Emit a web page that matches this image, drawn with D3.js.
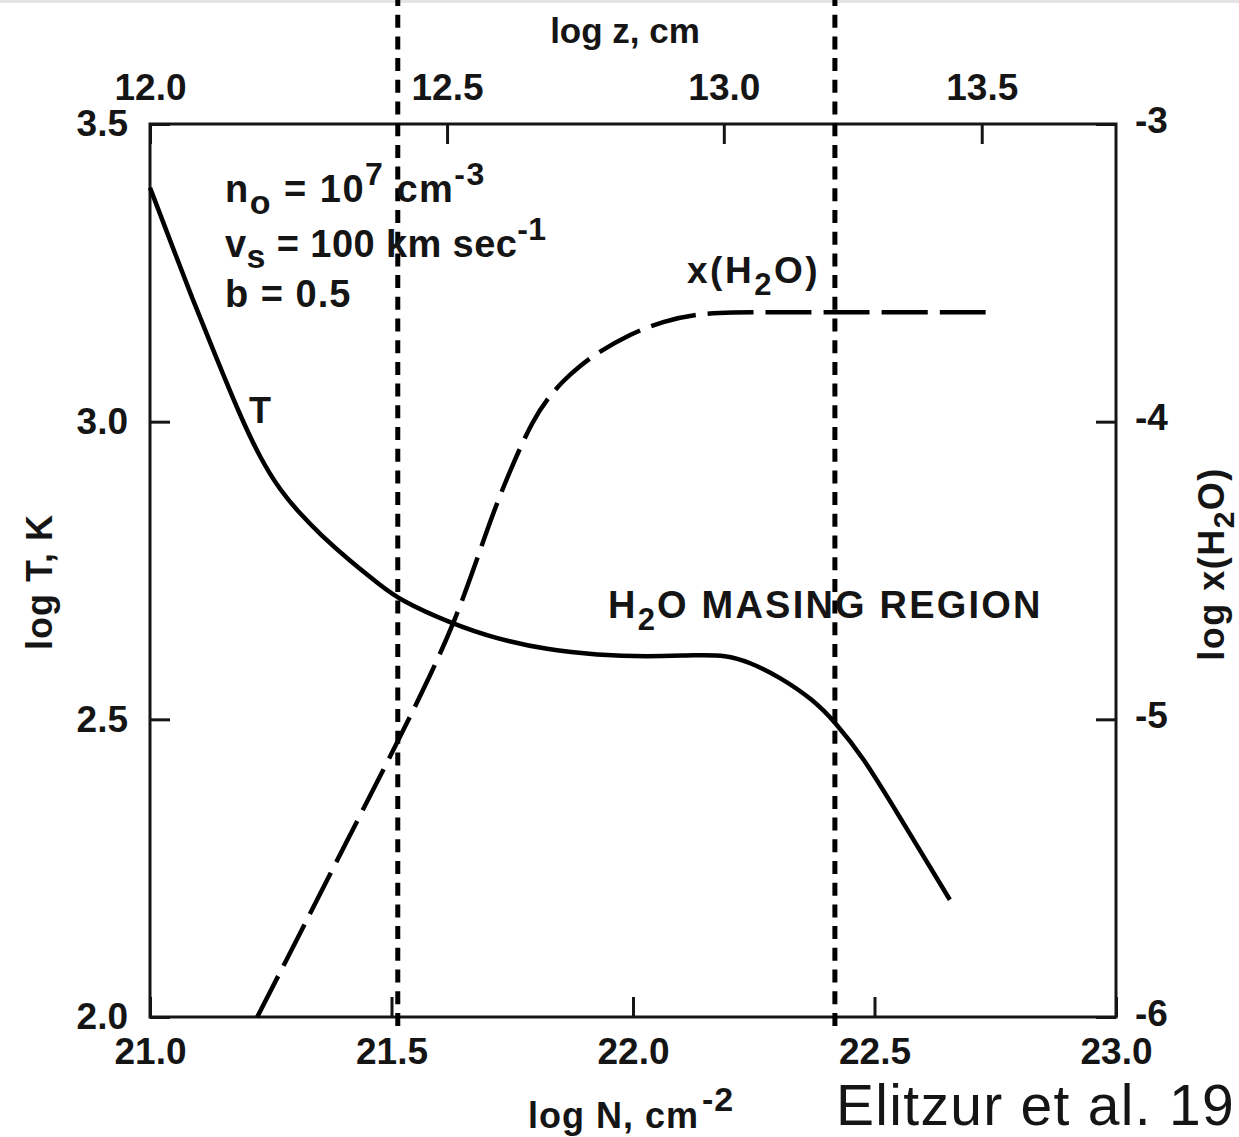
<!DOCTYPE html>
<html>
<head>
<meta charset="utf-8">
<script src="https://cdn.jsdelivr.net/npm/d3@7"></script>
<style>
  html, body { margin: 0; padding: 0; background: #fff; }
  svg { display: block; }
  text { font-family: "Liberation Sans", Arial, Helvetica, sans-serif; fill: #151515; white-space: pre; }
</style>
</head>
<body>
<svg id="chart" width="1239" height="1137"></svg>
<script>
// Column density axis (bottom), log N in cm^-2
const nTicks = [21.0, 21.5, 22.0, 22.5, 23.0];
// Temperature axis (left), log T in K
const tTicks = [2.0, 2.5, 3.0, 3.5];
// Water abundance axis (right), log x(H2O)
const xTicks = [-6, -5, -4, -3];
// Depth axis (top): log z values and the log N each one corresponds to
const zTicks = [12.0, 12.5, 13.0, 13.5];
const zAtN = [21.0, 21.615, 22.188, 22.722];

// Temperature profile behind the shock
const tempN    = [21.000, 21.046, 21.089, 21.135, 21.186, 21.228, 21.269, 21.311, 21.352, 21.414, 21.476, 21.518, 21.621, 21.718, 21.822, 21.926, 22.029, 22.133, 22.191, 22.242, 22.304, 22.373, 22.418, 22.476, 22.547, 22.656];
const tempLogT = [3.393, 3.295, 3.204, 3.112, 3.011, 2.939, 2.885, 2.845, 2.811, 2.766, 2.726, 2.700, 2.662, 2.635, 2.617, 2.608, 2.605, 2.608, 2.608, 2.596, 2.571, 2.533, 2.496, 2.437, 2.343, 2.197];

// Water abundance profile
const waterN    = [21.222, 21.311, 21.414, 21.518, 21.580, 21.632, 21.673, 21.710, 21.750, 21.793, 21.824, 21.855, 21.890, 21.926, 21.994, 22.062, 22.133, 22.201, 22.304, 22.747];
const waterLogX = [-6.000, -5.718, -5.389, -5.059, -4.854, -4.666, -4.482, -4.307, -4.146, -3.994, -3.921, -3.863, -3.813, -3.769, -3.706, -3.662, -3.638, -3.632, -3.632, -3.632];

// Edges of the H2O masing region (log N)
const regionN = [21.513, 22.418];

const svg = d3.select("#chart");
const W = 1239, H = 1137;
const plotL = 150, plotR = 1116, plotT = 124, plotB = 1017;

svg.append("rect").attr("width", W).attr("height", H).attr("fill", "#fff");
svg.append("rect").attr("x", 0).attr("y", 0).attr("width", W).attr("height", 3).attr("fill", "#e4e4e4");

const x = d3.scaleLinear().domain([21, 23]).range([plotL, plotR]);
const yT = d3.scaleLinear().domain([2, 3.5]).range([plotB, plotT]);
const yX = d3.scaleLinear().domain([-6, -3]).range([plotB, plotT]);
const z = d3.scaleLinear().domain(zTicks).range(zAtN.map(x));

const tickFont = 37;
function styleAxis(g) {
  g.attr("font-family", null).attr("font-size", null);
  g.select(".domain").remove();
  g.selectAll(".tick line").attr("stroke", "#151515").attr("stroke-width", 3);
  g.selectAll(".tick text")
    .attr("font-size", tickFont)
    .attr("font-weight", "bold")
    .attr("fill", "#151515");
}

const f1 = d3.format(".1f");

svg.append("g").attr("transform", `translate(0,${plotB})`)
  .call(d3.axisBottom(x).tickValues(nTicks).tickFormat(f1).tickSizeInner(-20).tickSizeOuter(0).tickPadding(21))
  .call(styleAxis);

svg.append("g").attr("transform", `translate(0,${plotT})`)
  .call(d3.axisTop(z).tickValues(zTicks).tickFormat(f1).tickSizeInner(-20).tickSizeOuter(0).tickPadding(24))
  .call(styleAxis);

svg.append("g").attr("transform", `translate(${plotL},0)`)
  .call(d3.axisLeft(yT).tickValues(tTicks).tickFormat(f1).tickSizeInner(-20).tickSizeOuter(0).tickPadding(22))
  .call(styleAxis);

svg.append("g").attr("transform", `translate(${plotR},0)`)
  .call(d3.axisRight(yX).tickValues(xTicks).tickFormat(d => String(d)).tickSizeInner(-20).tickSizeOuter(0).tickPadding(19))
  .call(styleAxis)
  .selectAll(".tick text").attr("dy", "0.22em");

// plot frame
svg.append("rect")
  .attr("x", plotL).attr("y", plotT)
  .attr("width", plotR - plotL).attr("height", plotB - plotT)
  .attr("fill", "none").attr("stroke", "#151515").attr("stroke-width", 3);

// temperature curve
const tempLine = d3.line().x(d => x(d[0])).y(d => yT(d[1])).curve(d3.curveBasis);
svg.append("path")
  .datum(d3.zip(tempN, tempLogT))
  .attr("d", tempLine)
  .attr("fill", "none").attr("stroke", "#000").attr("stroke-width", 4.5);

// water abundance curve
const waterLine = d3.line().x(d => x(d[0])).y(d => yX(d[1])).curve(d3.curveBasis);
svg.append("path")
  .datum(d3.zip(waterN, waterLogX))
  .attr("d", waterLine)
  .attr("fill", "none").attr("stroke", "#000").attr("stroke-width", 4.5)
  .attr("stroke-dasharray", "46,12");

// masing region boundaries
svg.selectAll(".region")
  .data(regionN)
  .join("line")
  .attr("class", "region")
  .attr("x1", d => x(d)).attr("x2", d => x(d))
  .attr("y1", 0).attr("y2", 1027)
  .attr("stroke", "#000").attr("stroke-width", 5)
  .attr("stroke-dasharray", "13,8.7").attr("stroke-dashoffset", 7);

// helper for text with sub/superscripts: parts = [[string, dy, size, dx]]
function richText(xp, yp, parts, opts = {}) {
  const t = svg.append("text")
    .attr("x", xp).attr("y", yp)
    .attr("font-size", opts.size || 37)
    .attr("font-weight", opts.weight || "bold")
    .attr("letter-spacing", opts.spacing || 0)
    .attr("text-anchor", opts.anchor || "start");
  if (opts.transform) t.attr("transform", opts.transform);
  parts.forEach(p => {
    const s = t.append("tspan").text(p[0]);
    if (p[1]) s.attr("dy", p[1]);
    if (p[2]) s.attr("font-size", p[2]);
    if (p[3]) s.attr("dx", p[3]);
  });
  return t;
}

// axis titles
richText(625, 43, [["log z, cm"]], { size: 35, anchor: "middle" });
richText(528, 1128, [["log N, cm"], ["-2", -17, 34, 3]], { size: 36, spacing: 1 });
richText(0, 0, [["log T, K"]], { size: 36, anchor: "middle", spacing: 1, transform: "translate(52,582) rotate(-90)" });
richText(0, 0, [["log x(H"], ["2", 10, 30], ["O)", -10]], { size: 36, anchor: "middle", spacing: 1.5, transform: "translate(1224,564) rotate(-90)" });

// model parameters
richText(225, 202, [["n"], ["o", 12, 34], [" = 10", -12], ["7", -17, 32], [" cm", 17], ["-3", -17, 32]], { size: 38, spacing: 1.5 });
richText(225, 257, [["v"], ["s", 11, 34], [" = 100 km sec", -11], ["-1", -17, 32]], { size: 38, spacing: 0.4 });
richText(225, 307, [["b = 0.5"]], { size: 38, spacing: 1 });

// curve labels
richText(260, 423, [["T"]], { size: 36, anchor: "middle" });
richText(687, 283, [["x(H"], ["2", 12, 31], ["O)", -12]], { size: 37, spacing: 2.5 });
richText(608, 618, [["H"], ["2", 12, 31], ["O MASING REGION", -12]], { size: 38, spacing: 2.2 });

// source
svg.append("text")
  .attr("x", 836).attr("y", 1124.5)
  .attr("font-size", 57)
  .attr("letter-spacing", 1.3)
  .attr("fill", "#000")
  .text("Elitzur et al. 19");
</script>
</body>
</html>
